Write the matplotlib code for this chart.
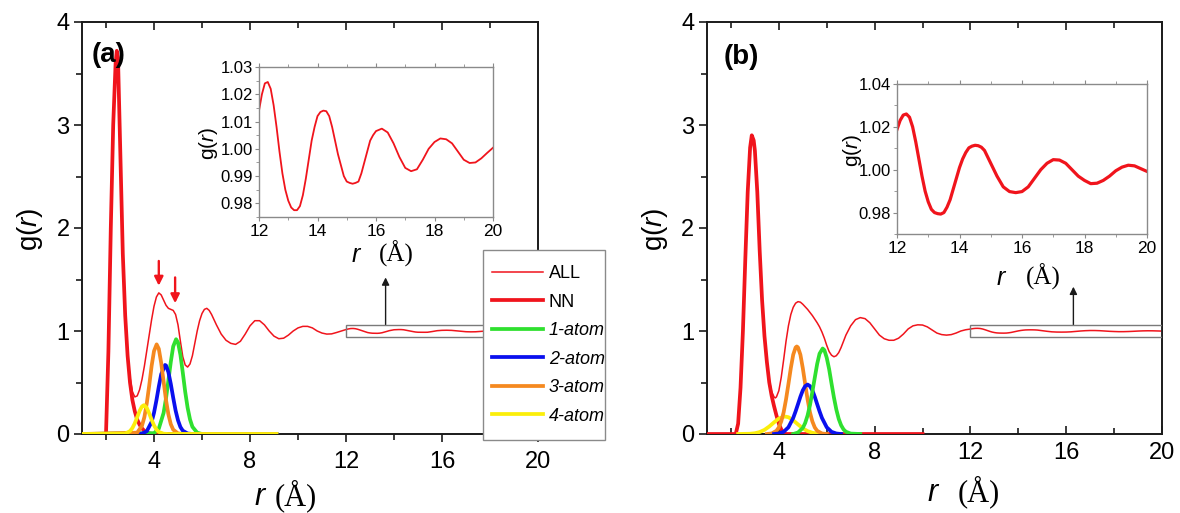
#!/usr/bin/env python3

'''
Two-panel pair distribution plot g(r): full curve plus the NN / n-atom
components, with an inset zooming into the long-range tail of each panel.
'''

import matplotlib.pyplot as plt
from matplotlib.patches import Rectangle
from matplotlib.ticker import MultipleLocator

plt.rcParams['font.family'] = ['Liberation Sans', 'DejaVu Sans']
plt.rcParams['mathtext.fontset'] = 'custom'
plt.rcParams['mathtext.it'] = 'Liberation Sans:italic'
plt.rcParams['mathtext.rm'] = 'Liberation Sans'

# ---- panel (a) ------------------------------------------------------------
r_all_a = [1.0, 2.0, 2.1, 2.2, 2.3, 2.4, 2.45, 2.5,
           2.6, 2.7, 2.8, 2.9, 3.0, 3.1, 3.2, 3.3, 3.4, 3.5, 3.6, 3.7, 3.8, 3.9,
           4.0, 4.1, 4.2, 4.3, 4.4, 4.5, 4.6, 4.7, 4.8, 4.9, 5.0, 5.1, 5.2, 5.3,
           5.4, 5.5, 5.6, 5.7, 5.8, 5.9, 6.0, 6.1, 6.2, 6.3, 6.4,
           6.6, 6.8, 7.0, 7.2, 7.4, 7.6, 7.8, 8.0, 8.2, 8.4, 8.6, 8.8, 9.0, 9.2,
           9.4, 9.6, 9.8, 10.0, 10.2, 10.4, 10.6, 10.8, 11.0, 11.2, 11.4, 11.6, 11.8]
g_all_a = [0.0, 0.0, 0.8, 2.0, 3.0, 3.6, 3.72, 3.65,
           2.7, 1.75, 1.15, 0.78, 0.55, 0.41, 0.36, 0.37, 0.43, 0.53, 0.66, 0.81, 0.96, 1.11,
           1.24, 1.33, 1.37, 1.35, 1.3, 1.25, 1.22, 1.21, 1.2, 1.16, 1.06, 0.9, 0.75, 0.67,
           0.65, 0.68, 0.76, 0.88, 1.0, 1.1, 1.17, 1.21, 1.22, 1.2, 1.16,
           1.06, 0.97, 0.91, 0.88, 0.87, 0.9, 0.97, 1.05, 1.1, 1.1, 1.06, 1.0, 0.95, 0.925,
           0.93, 0.96, 1.0, 1.03, 1.045, 1.045, 1.03, 1.0, 0.98, 0.97, 0.972, 0.985, 1.0]

# long-range tail, shared by the main curve and the inset
r_tail_a = [12.0, 12.1, 12.2, 12.3, 12.4, 12.5, 12.6, 12.7, 12.8, 12.9,
            13.0, 13.1, 13.2, 13.3, 13.4, 13.5, 13.6, 13.7, 13.8, 13.9,
            14.0, 14.1, 14.2, 14.3, 14.4, 14.5, 14.6, 14.7, 14.8, 14.9,
            15.0, 15.1, 15.2, 15.3, 15.4, 15.5, 15.6, 15.7, 15.8, 15.9, 16.0,
            16.2, 16.4, 16.6, 16.8, 17.0, 17.2, 17.4, 17.6, 17.8, 18.0,
            18.2, 18.4, 18.6, 18.8, 19.0, 19.2, 19.4, 19.6, 19.8, 20.0]
g_tail_a = [1.014, 1.02, 1.024, 1.0245, 1.022, 1.016, 1.008, 0.999, 0.991, 0.985,
            0.981, 0.9785, 0.9775, 0.9775, 0.979, 0.983, 0.989, 0.996, 1.003, 1.008,
            1.012, 1.0135, 1.014, 1.0138, 1.012, 1.008, 1.003, 0.998, 0.994, 0.99,
            0.988, 0.9875, 0.9872, 0.9875, 0.988, 0.991, 0.995, 0.999, 1.003, 1.005, 1.0065,
            1.0074, 1.006, 1.002, 0.997, 0.993, 0.9918, 0.9925, 0.996, 1.0, 1.0025,
            1.0038, 1.0035, 1.002, 0.999, 0.996, 0.9948, 0.995, 0.9965, 0.9985, 1.0004]

r_nn_a = [1.0, 2.0, 2.1, 2.2, 2.3, 2.4, 2.45, 2.5, 2.6, 2.7, 2.8, 2.9,
          3.0, 3.1, 3.2, 3.3, 3.4, 3.5, 3.6, 3.7, 3.8, 3.9, 4.0, 9.0]
g_nn_a = [0.0, 0.0, 0.8, 2.0, 3.0, 3.6, 3.72, 3.65, 2.7, 1.75, 1.15, 0.76,
          0.5, 0.33, 0.22, 0.14, 0.09, 0.055, 0.03, 0.015, 0.007, 0.002, 0.0, 0.0]

r_1at_a = [1.0, 4.0, 4.2, 4.4, 4.5, 4.6, 4.7, 4.8, 4.92, 5.0, 5.1, 5.2, 5.3,
           5.4, 5.5, 5.6, 5.8, 6.0, 9.1]
g_1at_a = [0.0, 0.008, 0.052, 0.205, 0.345, 0.52, 0.70, 0.85, 0.92, 0.888, 0.77, 0.595, 0.41,
           0.256, 0.142, 0.07, 0.0125, 0.0, 0.0]

r_2at_a = [1.0, 3.5, 3.7, 3.9, 4.0, 4.1, 4.2, 4.3, 4.46, 4.5, 4.6, 4.7, 4.8,
           4.9, 5.0, 5.1, 5.2, 5.4, 5.6, 9.1]
g_2at_a = [0.0, 0.004, 0.027, 0.117, 0.206, 0.326, 0.46, 0.58, 0.67, 0.665, 0.60, 0.486, 0.352,
           0.228, 0.133, 0.068, 0.032, 0.005, 0.0, 0.0]

r_3at_a = [1.0, 3.3, 3.5, 3.6, 3.7, 3.8, 3.9, 4.0, 4.11, 4.2, 4.3, 4.4, 4.5,
           4.6, 4.7, 4.8, 5.0, 5.2, 9.1]
g_3at_a = [0.0, 0.013, 0.081, 0.165, 0.30, 0.47, 0.66, 0.805, 0.87, 0.827, 0.69, 0.51, 0.33,
           0.19, 0.095, 0.042, 0.006, 0.0, 0.0]

r_4at_a = [1.0, 2.8, 3.0, 3.1, 3.2, 3.3, 3.4, 3.5, 3.58, 3.7, 3.8, 3.9, 4.0,
           4.1, 4.2, 4.4, 4.6, 9.1]
g_4at_a = [0.0, 0.004, 0.028, 0.058, 0.104, 0.164, 0.224, 0.268, 0.28, 0.254, 0.20, 0.139, 0.084,
           0.044, 0.02, 0.003, 0.0, 0.0]

# ---- panel (b) ------------------------------------------------------------
r_all_b = [1.0, 2.2, 2.3, 2.4, 2.5, 2.6, 2.7, 2.8, 2.87, 2.95,
           3.0, 3.1, 3.2, 3.3, 3.4, 3.5, 3.6, 3.7, 3.8, 3.85,
           3.9, 4.0, 4.1, 4.2, 4.3, 4.4, 4.5, 4.6, 4.7, 4.8, 4.9, 5.0,
           5.2, 5.4, 5.6, 5.7, 5.8, 5.9, 6.0, 6.1, 6.2, 6.3, 6.4, 6.5, 6.6,
           6.8, 7.0, 7.2, 7.4, 7.6, 7.8, 8.0, 8.2, 8.4, 8.6, 8.8, 9.0, 9.2,
           9.4, 9.6, 9.8, 10.0, 10.2, 10.4, 10.6, 10.8, 11.0, 11.2, 11.4, 11.6, 11.8]
g_all_b = [0.0, 0.0, 0.1, 0.45, 1.0, 1.7, 2.35, 2.78, 2.9, 2.85,
           2.75, 2.35, 1.78, 1.3, 0.95, 0.7, 0.52, 0.41, 0.36, 0.35,
           0.36, 0.42, 0.55, 0.72, 0.9, 1.05, 1.16, 1.23, 1.27, 1.285, 1.28, 1.26,
           1.21, 1.15, 1.08, 1.04, 0.99, 0.93, 0.86, 0.8, 0.765, 0.75, 0.76, 0.79, 0.84,
           0.96, 1.05, 1.11, 1.13, 1.12, 1.08, 1.02, 0.96, 0.925, 0.91, 0.91, 0.93, 0.97,
           1.02, 1.05, 1.06, 1.058, 1.04, 1.01, 0.98, 0.965, 0.96, 0.965, 0.98, 1.0, 1.012]

r_tail_b = [12.0, 12.1, 12.2, 12.3, 12.4, 12.5, 12.6, 12.7, 12.8, 12.9,
            13.0, 13.1, 13.2, 13.3, 13.4, 13.5, 13.6, 13.7, 13.8, 13.9,
            14.0, 14.1, 14.2, 14.3, 14.4, 14.5, 14.6, 14.7, 14.8, 14.9, 15.0,
            15.2, 15.4, 15.6, 15.8, 16.0, 16.2, 16.4, 16.6, 16.8, 17.0,
            17.2, 17.4, 17.6, 17.8, 18.0, 18.2, 18.4, 18.6, 18.8, 19.0,
            19.2, 19.4, 19.6, 19.8, 20.0]
g_tail_b = [1.0188, 1.023, 1.0255, 1.026, 1.0245, 1.02, 1.013, 1.005, 0.997, 0.99,
            0.985, 0.9815, 0.98, 0.9795, 0.9793, 0.98, 0.9825, 0.986, 0.991, 0.996,
            1.001, 1.005, 1.008, 1.0102, 1.011, 1.0114, 1.0112, 1.0105, 1.009, 1.006, 1.003,
            0.997, 0.992, 0.9898, 0.9893, 0.9898, 0.992, 0.996, 1.0, 1.003, 1.0047,
            1.0045, 1.003, 1.0, 0.997, 0.995, 0.9935, 0.9937, 0.995, 0.997, 0.9995,
            1.0012, 1.0021, 1.0018, 1.0005, 0.9992]

r_nn_b = [1.0, 2.2, 2.3, 2.4, 2.5, 2.6, 2.7, 2.8, 2.87, 2.95, 3.0, 3.1, 3.2,
          3.3, 3.4, 3.5, 3.6, 3.7, 3.8, 3.9, 4.0, 4.1, 4.2, 4.3, 10.0]
g_nn_b = [0.0, 0.0, 0.1, 0.45, 1.0, 1.7, 2.35, 2.78, 2.9, 2.85, 2.75, 2.35, 1.78,
          1.3, 0.95, 0.7, 0.5, 0.37, 0.27, 0.18, 0.1, 0.045, 0.012, 0.0, 0.0]

r_1at_b = [4.6, 4.8, 5.0, 5.1, 5.2, 5.3, 5.4, 5.5, 5.6, 5.7, 5.83, 5.9, 6.0,
           6.1, 6.2, 6.3, 6.4, 6.5, 6.6, 6.7, 6.8, 7.0, 7.4]
g_1at_b = [0.0, 0.014, 0.059, 0.107, 0.18, 0.28, 0.41, 0.546, 0.68, 0.78, 0.83, 0.815, 0.74,
           0.63, 0.49, 0.355, 0.238, 0.147, 0.085, 0.045, 0.022, 0.004, 0.0]

r_2at_b = [3.8, 4.0, 4.2, 4.4, 4.6, 4.7, 4.8, 4.9, 5.0, 5.1, 5.2, 5.3, 5.4,
           5.5, 5.6, 5.7, 5.8, 6.0, 6.2, 6.4, 6.6]
g_2at_b = [0.0, 0.005, 0.021, 0.065, 0.156, 0.22, 0.29, 0.362, 0.424, 0.465, 0.48, 0.465, 0.424,
           0.362, 0.29, 0.22, 0.156, 0.065, 0.021, 0.005, 0.0]

r_3at_b = [3.5, 3.7, 3.9, 4.0, 4.1, 4.2, 4.3, 4.4, 4.5, 4.6, 4.7, 4.75, 4.8,
           4.9, 5.0, 5.1, 5.2, 5.3, 5.4, 5.5, 5.6, 5.8, 6.0]
g_3at_b = [0.0, 0.005, 0.031, 0.064, 0.122, 0.21, 0.336, 0.485, 0.64, 0.77, 0.84, 0.85, 0.84,
           0.77, 0.64, 0.485, 0.336, 0.21, 0.122, 0.064, 0.031, 0.005, 0.0]

r_4at_b = [2.3, 2.8, 3.0, 3.2, 3.4, 3.6, 3.8, 4.0, 4.25, 4.4, 4.6, 4.8, 5.0,
           5.2, 5.4, 5.6, 5.8]
g_4at_b = [0.0, 0.0025, 0.0075, 0.019, 0.04, 0.073, 0.113, 0.15, 0.17, 0.163, 0.133, 0.093, 0.055,
           0.028, 0.012, 0.004, 0.0]

LABELS = ["ALL", "NN", "1-atom", "2-atom", "3-atom", "4-atom"]

RED = "#f0141c"
COLORS = {
    "1-atom": "#2fe02f",
    "2-atom": "#0a10ee",
    "3-atom": "#f5891f",
    "4-atom": "#fbee0a",
}

W, H = 1180, 513
YLAB = "g($\\mathit{r}$)"


def fx(px):
    return px / W


def fy(py):
    return 1 - py / H


# common look of the two big panels
def style_main(ax, bottom_dir):
    ax.set_xlim(1, 20)
    ax.set_ylim(0, 4)
    ax.xaxis.set_major_locator(MultipleLocator(4))
    ax.xaxis.set_minor_locator(MultipleLocator(2))
    ax.yaxis.set_major_locator(MultipleLocator(1))
    ax.yaxis.set_minor_locator(MultipleLocator(0.5))
    for s in ax.spines.values():
        s.set_linewidth(1.4)
        s.set_color("#1a1a1a")
    ax.tick_params(axis="both", which="both", labelsize=17, width=1.2, color="#1a1a1a")
    ax.tick_params(axis="both", which="major", length=6)
    ax.tick_params(axis="both", which="minor", length=4)
    ax.tick_params(axis="y", which="both", direction="out", left=True, right=False, pad=3)
    ax.tick_params(axis="x", which="both", direction=bottom_dir, top=True, bottom=True, pad=6)
    # top ticks always point inward
    for t in ax.xaxis.get_major_ticks() + ax.xaxis.get_minor_ticks():
        t.tick2line.set_marker(3)


def style_inset(ax, ylim, ymajor, yminor):
    ax.set_xlim(12, 20)
    ax.set_ylim(*ylim)
    ax.xaxis.set_major_locator(MultipleLocator(2))
    ax.xaxis.set_minor_locator(MultipleLocator(1))
    ax.yaxis.set_major_locator(MultipleLocator(ymajor))
    ax.yaxis.set_minor_locator(MultipleLocator(yminor))
    ax.yaxis.set_major_formatter("{x:.2f}")
    for s in ax.spines.values():
        s.set_linewidth(1.0)
        s.set_color("#8a8a8a")
    ax.tick_params(which="both", direction="out", color="#8a8a8a", top=True, right=False)
    ax.tick_params(which="major", length=3, width=0.8)
    ax.tick_params(which="minor", length=2, width=0.6)
    ax.tick_params(axis="y", labelsize=12, pad=1.5)
    ax.tick_params(axis="x", labelsize=12.5, pad=2)


def plot_panel(ax, curves, order):
    handles = {}
    for name in order:
        r, g = curves[name]
        if name == "ALL":
            h, = ax.plot(r, g, color=RED, lw=1.1, zorder=2)
        elif name == "NN":
            h, = ax.plot(r, g, color=RED, lw=2.7, zorder=3, solid_joinstyle="round")
        else:
            h, = ax.plot(r, g, color=COLORS[name], lw=2.7, zorder=3, solid_joinstyle="round")
        handles[name] = h
    return handles


# "r (Å)" label: italic sans r followed by a serif (Å)
def r_label(fig, cx_r, cx_a, base, size):
    fig.text(fx(cx_r), fy(base), "r", fontsize=size, style="italic", ha="center", va="baseline")
    fig.text(fx(cx_a), fy(base), "(Å)", fontsize=size, family="Liberation Serif",
             ha="center", va="baseline")


def main():
    fig = plt.figure(figsize=(W / 100, H / 100), dpi=100)

    ax_a = fig.add_axes([fx(82), fy(434), fx(456), 412 / H])
    ax_b = fig.add_axes([fx(707), fy(434), fx(455), 412 / H])

    curves_a = {
        "ALL": (r_all_a + r_tail_a, g_all_a + g_tail_a),
        "NN": (r_nn_a, g_nn_a),
        "1-atom": (r_1at_a, g_1at_a),
        "2-atom": (r_2at_a, g_2at_a),
        "3-atom": (r_3at_a, g_3at_a),
        "4-atom": (r_4at_a, g_4at_a),
    }
    curves_b = {
        "ALL": (r_all_b + r_tail_b, g_all_b + g_tail_b),
        "NN": (r_nn_b, g_nn_b),
        "1-atom": (r_1at_b, g_1at_b),
        "2-atom": (r_2at_b, g_2at_b),
        "3-atom": (r_3at_b, g_3at_b),
        "4-atom": (r_4at_b, g_4at_b),
    }

    handles = plot_panel(ax_a, curves_a, LABELS)
    plot_panel(ax_b, curves_b, ["ALL", "NN", "4-atom", "3-atom", "2-atom", "1-atom"])

    style_main(ax_a, "out")
    style_main(ax_b, "in")

    # zoom boxes and arrows pointing up to the insets
    for ax, ax_x, ax_top in ((ax_a, 13.65, 1.52), (ax_b, 16.3, 1.43)):
        ax.add_patch(Rectangle((12, 0.94), 8, 0.12, fill=False, ec="#7a7a7a", lw=1.0, zorder=4))
        ax.annotate("", xy=(ax_x, ax_top), xytext=(ax_x, 1.06),
                    arrowprops=dict(arrowstyle="-|>", color="#1a1a1a", lw=1.0,
                                    mutation_scale=11, shrinkA=0, shrinkB=0))

    # red arrows marking the split second peak
    for x0, y_tail, y_tip in ((4.2, 1.68, 1.44), (4.88, 1.52, 1.27)):
        ax_a.annotate("", xy=(x0, y_tip), xytext=(x0, y_tail),
                      arrowprops=dict(arrowstyle="-|>", color=RED, lw=1.7,
                                      mutation_scale=13, shrinkA=0, shrinkB=0))

    ax_a.text(2.1, 3.68, "(a)", fontsize=20, fontweight="bold", ha="center", va="center")
    ax_b.text(2.45, 3.66, "(b)", fontsize=20, fontweight="bold", ha="center", va="center")

    r_label(fig, 260, 296, 505, 22)
    r_label(fig, 933, 979, 501, 22)
    fig.text(fx(30), fy(229), YLAB, fontsize=20, rotation=90, ha="center", va="center")
    fig.text(fx(655), fy(229), YLAB, fontsize=20, rotation=90, ha="center", va="center")

    # insets
    ins_a = fig.add_axes([fx(259), fy(217), fx(234), 150 / H])
    ins_a.plot(r_tail_a, g_tail_a, color=RED, lw=1.3)
    style_inset(ins_a, (0.975, 1.03), 0.01, 0.005)

    ins_b = fig.add_axes([fx(897), fy(234), fx(250), 150 / H])
    ins_b.plot(r_tail_b, g_tail_b, color=RED, lw=2.3)
    style_inset(ins_b, (0.97, 1.04), 0.02, 0.01)

    fig.text(fx(208), fy(143), YLAB, fontsize=15, rotation=90, ha="center", va="center")
    fig.text(fx(853), fy(150), YLAB, fontsize=15, rotation=90, ha="center", va="center")
    r_label(fig, 356, 396, 262, 18)
    r_label(fig, 1001, 1043, 285, 18)

    # legend frame drawn by hand so it lands exactly over the right edge of panel (a)
    fig.add_artist(Rectangle((fx(483), fy(440)), fx(605 - 483), (440 - 250) / H,
                             transform=fig.transFigure, fc="white", ec="#8a8a8a",
                             lw=1.0, zorder=4))
    leg = fig.legend([handles[k] for k in LABELS], LABELS, loc="upper left",
                     bbox_to_anchor=(fx(492), fy(265)), frameon=False, fontsize=13,
                     handlelength=2.8, handletextpad=0.35, labelspacing=0.64,
                     borderpad=0, borderaxespad=0)
    leg.set_zorder(5)
    for t in leg.get_texts()[2:]:
        t.set_style("italic")

    fig.savefig("out.png", dpi=100)
    plt.close(fig)


if __name__ == '__main__':
    main()
